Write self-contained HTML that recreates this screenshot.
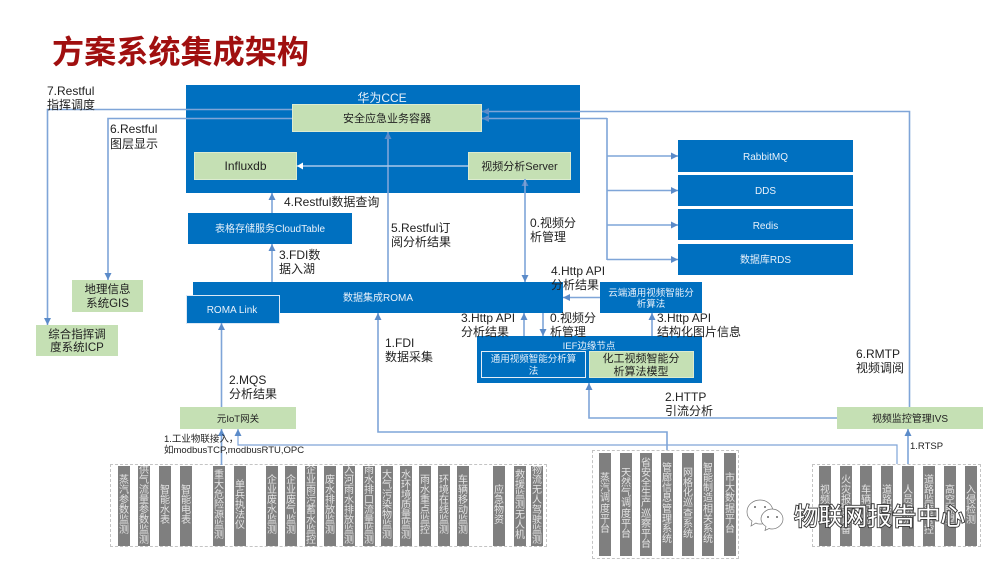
<!DOCTYPE html>
<html><head><meta charset="utf-8">
<style>
html,body{margin:0;padding:0;background:#fff}
#p{position:relative;width:1000px;height:562px;overflow:hidden;background:#fff;font-family:"Liberation Sans","Noto Sans CJK SC",sans-serif}
svg{position:absolute;left:0;top:0}
svg text{font-family:"Liberation Sans","Noto Sans CJK SC",sans-serif}
.g{position:absolute;border:1px dashed #c4c4c4;box-sizing:border-box}
.c{position:absolute;top:466px;width:12px;height:80px;background:#7f7f7f;display:flex;flex-direction:column;align-items:center;justify-content:center;font-size:10px;color:#e4e4e4;overflow:hidden}
.c i{display:block;flex:none;width:12px;height:10.1px;line-height:10px;font-style:normal;text-align:center}
.d{top:453px;height:103px}
.t{font-size:12px;fill:#222}
.w{fill:#e8f1fa;text-anchor:middle;font-size:10px}
.k{fill:#222;text-anchor:middle;font-size:11px}
.l{fill:none;stroke:#7fa5d8;stroke-width:1.6}
</style></head>
<body><div id="p">
<div class="g" style="left:110px;top:464px;width:437px;height:83px"></div>
<div class="g" style="left:592px;top:450px;width:147px;height:109px"></div>
<div class="g" style="left:812px;top:464px;width:169px;height:83px"></div>

<div class="c" style="left:118px"><i>蒸</i><i>汽</i><i>参</i><i>数</i><i>监</i><i>测</i></div>
<div class="c" style="left:138px"><i>供</i><i>气</i><i>流</i><i>量</i><i>参</i><i>数</i><i>监</i><i>测</i></div>
<div class="c" style="left:159px"><i>智</i><i>能</i><i>水</i><i>表</i></div>
<div class="c" style="left:180px"><i>智</i><i>能</i><i>电</i><i>表</i></div>
<div class="c" style="left:213px"><i>重</i><i>大</i><i>危</i><i>险</i><i>源</i><i>监</i><i>测</i></div>
<div class="c" style="left:234px"><i>单</i><i>兵</i><i>执</i><i>法</i><i>仪</i></div>
<div class="c" style="left:266px"><i>企</i><i>业</i><i>废</i><i>水</i><i>监</i><i>测</i></div>
<div class="c" style="left:285px"><i>企</i><i>业</i><i>废</i><i>气</i><i>监</i><i>测</i></div>
<div class="c" style="left:305px"><i>企</i><i>业</i><i>雨</i><i>污</i><i>蓄</i><i>水</i><i>监</i><i>控</i></div>
<div class="c" style="left:324px"><i>废</i><i>水</i><i>排</i><i>放</i><i>监</i><i>测</i></div>
<div class="c" style="left:343px"><i>入</i><i>河</i><i>雨</i><i>水</i><i>排</i><i>放</i><i>监</i><i>测</i></div>
<div class="c" style="left:363px"><i>雨</i><i>水</i><i>排</i><i>口</i><i>流</i><i>量</i><i>监</i><i>测</i></div>
<div class="c" style="left:381px"><i>大</i><i>气</i><i>污</i><i>染</i><i>物</i><i>监</i><i>测</i></div>
<div class="c" style="left:400px"><i>水</i><i>环</i><i>境</i><i>质</i><i>量</i><i>监</i><i>测</i></div>
<div class="c" style="left:419px"><i>雨</i><i>水</i><i>重</i><i>点</i><i>监</i><i>控</i></div>
<div class="c" style="left:438px"><i>环</i><i>境</i><i>在</i><i>线</i><i>监</i><i>测</i></div>
<div class="c" style="left:457px"><i>车</i><i>辆</i><i>移</i><i>动</i><i>监</i><i>测</i></div>
<div class="c" style="left:493px"><i>应</i><i>急</i><i>物</i><i>资</i></div>
<div class="c" style="left:514px"><i>救</i><i>援</i><i>监</i><i>测</i><i>无</i><i>人</i><i>机</i></div>
<div class="c" style="left:531px"><i>物</i><i>流</i><i>无</i><i>人</i><i>驾</i><i>驶</i><i>监</i><i>测</i></div>

<div class="c d" style="left:599px"><i>蒸</i><i>汽</i><i>调</i><i>度</i><i>平</i><i>台</i></div>
<div class="c d" style="left:620px"><i>天</i><i>然</i><i>气</i><i>调</i><i>度</i><i>平</i><i>台</i></div>
<div class="c d" style="left:640px"><i>省</i><i>安</i><i>全</i><i>生</i><i>产</i><i>巡</i><i>察</i><i>平</i><i>台</i></div>
<div class="c d" style="left:661px"><i>管</i><i>廊</i><i>信</i><i>息</i><i>管</i><i>理</i><i>系</i><i>统</i></div>
<div class="c d" style="left:682px"><i>网</i><i>格</i><i>化</i><i>巡</i><i>查</i><i>系</i><i>统</i></div>
<div class="c d" style="left:702px"><i>智</i><i>能</i><i>制</i><i>造</i><i>相</i><i>关</i><i>系</i><i>统</i></div>
<div class="c d" style="left:724px"><i>市</i><i>大</i><i>数</i><i>据</i><i>平</i><i>台</i></div>

<div class="c" style="left:819px"><i>视</i><i>频</i><i>调</i><i>阅</i></div>
<div class="c" style="left:840px"><i>火</i><i>灾</i><i>报</i><i>警</i><i>设</i><i>备</i></div>
<div class="c" style="left:860px"><i>车</i><i>辆</i><i>识</i><i>别</i></div>
<div class="c" style="left:881px"><i>道</i><i>路</i><i>检</i><i>测</i></div>
<div class="c" style="left:902px"><i>人</i><i>员</i><i>识</i><i>别</i></div>
<div class="c" style="left:923px"><i>道</i><i>路</i><i>监</i><i>管</i><i>管</i><i>控</i></div>
<div class="c" style="left:944px"><i>高</i><i>空</i><i>瞭</i><i>望</i></div>
<div class="c" style="left:965px"><i>入</i><i>侵</i><i>检</i><i>测</i></div>

<svg width="1000" height="562" viewBox="0 0 1000 562">
<defs>
<marker id="a" markerUnits="userSpaceOnUse" markerWidth="8" markerHeight="8" refX="7" refY="4" orient="auto"><path d="M0 0.500L7 4L0 7.500z" fill="#5b8bc9"/></marker>
<marker id="b" markerUnits="userSpaceOnUse" markerWidth="8" markerHeight="8" refX="6" refY="4" orient="auto"><path d="M0 0.500L6 4L0 7.500z" fill="#fff"/></marker>
</defs>

<text x="52" y="63" font-size="32" font-weight="700" fill="#a00f0f" textLength="257" lengthAdjust="spacingAndGlyphs">方案系统集成架构</text>

<!-- main boxes -->
<rect x="186" y="85" width="394" height="108" fill="#0070c0"/>
<rect x="292.500" y="104.500" width="189" height="27" fill="#c5e0b4" stroke="#dcebd0"/>
<rect x="194.500" y="152.500" width="102" height="27" fill="#c5e0b4" stroke="#dcebd0"/>
<rect x="468.500" y="152.500" width="102" height="27" fill="#c5e0b4" stroke="#dcebd0"/>
<rect x="188" y="213" width="164" height="31" fill="#0070c0"/>
<rect x="193" y="282" width="370" height="31" fill="#0070c0"/>
<rect x="186.500" y="295.500" width="93" height="28" fill="#0070c0" stroke="#dbe8f5"/>
<rect x="600" y="282" width="102" height="31" fill="#0070c0"/>
<rect x="477" y="336" width="225" height="47" fill="#0070c0"/>
<rect x="481.500" y="351.500" width="104" height="26" fill="#0070c0" stroke="#e5eef7"/>
<rect x="589.500" y="351.500" width="104" height="26" fill="#c5e0b4" stroke="#dcebd0"/>
<rect x="678" y="140" width="175" height="32" fill="#0070c0"/>
<rect x="678" y="175" width="175" height="31" fill="#0070c0"/>
<rect x="678" y="209" width="175" height="31" fill="#0070c0"/>
<rect x="678" y="244" width="175" height="31" fill="#0070c0"/>
<rect x="72" y="280" width="71" height="32" fill="#c5e0b4"/>
<rect x="36" y="325" width="82" height="31" fill="#c5e0b4"/>
<rect x="180" y="407" width="116" height="22" fill="#c5e0b4"/>
<rect x="837" y="407" width="146" height="22" fill="#c5e0b4"/>

<!-- connectors -->
<g class="l">
<path d="M292 109.500H47.500V325" marker-end="url(#a)"/>
<path d="M292 118.500H108V280" marker-end="url(#a)"/>
<path d="M909.500 407V111.500H482" marker-end="url(#a)"/>
<path d="M607 118.500H482" marker-end="url(#a)"/>
<path d="M607 118V260"/>
<path d="M607 156H678" marker-end="url(#a)"/>
<path d="M607 190.500H678" marker-end="url(#a)"/>
<path d="M607 225H678" marker-end="url(#a)"/>
<path d="M607 259.500H678" marker-end="url(#a)"/>
<path d="M388 282V132" marker-end="url(#a)"/>
<path d="M272 213V193" marker-end="url(#a)"/>
<path d="M272 282V244" marker-end="url(#a)"/>
<path d="M525 186V179" marker-end="url(#a)"/>
<path d="M525 179V282" marker-end="url(#a)"/>
<path d="M667 450V432H378V313" marker-end="url(#a)"/>
<path d="M221.500 407V323" marker-end="url(#a)"/>
<path d="M221.500 465V429" marker-end="url(#a)"/>
<path d="M897 464V445H238V429" marker-end="url(#a)" style="stroke-width:1.2"/>
<path d="M908 464V429" marker-end="url(#a)"/>
<path d="M837 418H589V383" marker-end="url(#a)"/>
<path d="M524 336V313" marker-end="url(#a)"/>
<path d="M543 313V336" marker-end="url(#a)"/>
<path d="M652 336V313" marker-end="url(#a)"/>
<path d="M600 297.500H563" marker-end="url(#a)"/>
</g>
<path d="M468 166H297" fill="none" stroke="#a9c8ea" stroke-width="1.6" marker-end="url(#b)"/>

<!-- box text -->
<text x="382" y="102" class="w" style="font-size:12px">华为CCE</text>
<text x="387" y="122" class="k">安全应急业务容器</text>
<text x="245.500" y="170" class="k" style="font-size:12px">Influxdb</text>
<text x="519.500" y="170" class="k">视频分析Server</text>
<text x="270" y="232" class="w">表格存储服务CloudTable</text>
<text x="378" y="301" class="w">数据集成ROMA</text>
<text x="232" y="313" class="w">ROMA Link</text>
<text x="651" y="296" class="w" style="font-size:9.500px">云端通用视频智能分</text>
<text x="651" y="307" class="w" style="font-size:9.500px">析算法</text>
<text x="589" y="349" class="w" style="font-size:9.500px">IEF边缘节点</text>
<text x="533.500" y="362" class="w" style="font-size:9.500px">通用视频智能分析算</text>
<text x="533.500" y="374" class="w" style="font-size:9.500px">法</text>
<text x="641" y="362" class="k">化工视频智能分</text>
<text x="641" y="375" class="k">析算法模型</text>
<text x="765.500" y="160" class="w">RabbitMQ</text>
<text x="765.500" y="194" class="w">DDS</text>
<text x="765.500" y="229" class="w">Redis</text>
<text x="765.500" y="263" class="w">数据库RDS</text>
<text x="107.500" y="293" class="k" style="font-size:11.500px">地理信息</text>
<text x="107.500" y="307" class="k" style="font-size:11.500px">系统GIS</text>
<text x="77" y="338" class="k" style="font-size:11.500px">综合指挥调</text>
<text x="77" y="351" class="k" style="font-size:11.500px">度系统ICP</text>
<text x="238" y="422" class="k" style="font-size:9.500px">元IoT网关</text>
<text x="910" y="422" class="k" style="font-size:10px">视频监控管理IVS</text>

<!-- labels -->
<g class="t">
<text x="47" y="95">7.Restful</text><text x="47" y="109">指挥调度</text>
<text x="110" y="133">6.Restful</text><text x="110" y="148">图层显示</text>
<text x="284" y="206">4.Restful数据查询</text>
<text x="279" y="259">3.FDI数</text><text x="279" y="273">据入湖</text>
<text x="391" y="232">5.Restful订</text><text x="391" y="246">阅分析结果</text>
<text x="530" y="227">0.视频分</text><text x="530" y="241">析管理</text>
<text x="551" y="275">4.Http API</text><text x="551" y="289">分析结果</text>
<text x="461" y="322">3.Http API</text><text x="461" y="336">分析结果</text>
<text x="550" y="322">0.视频分</text><text x="550" y="336">析管理</text>
<text x="657" y="322">3.Http API</text><text x="657" y="336">结构化图片信息</text>
<text x="385" y="347">1.FDI</text><text x="385" y="361">数据采集</text>
<text x="229" y="384">2.MQS</text><text x="229" y="398">分析结果</text>
<text x="665" y="401">2.HTTP</text><text x="665" y="415">引流分析</text>
<text x="856" y="358">6.RMTP</text><text x="856" y="372">视频调阅</text>
<text x="910" y="449" style="font-size:9.500px">1.RTSP</text>
<text x="164" y="442" style="font-size:9.500px">1.工业物联接入，</text>
<text x="164" y="453" style="font-size:9.500px">如modbusTCP,modbusRTU,OPC</text>
</g>

<!-- watermark -->
<g fill="#fff" stroke="#777" stroke-width="0.700">
<path d="M747 512c0-7 6-12 13-12s13 5 13 12-6 12-13 12c-1 0-3 0-4-1l-5 3 1-5c-3-2-5-5-5-9z"/>
<path d="M761 519c0-5 5-10 11-10s11 5 11 10-5 10-11 10c-1 0-2 0-3-.5l-4 2 1-4c-3-2-5-4-5-7.500z"/>
</g>
<g fill="#666"><circle cx="755" cy="507" r="1"/><circle cx="765" cy="507" r="1"/><circle cx="768" cy="517" r="1"/><circle cx="777" cy="517" r="1"/></g>
<text x="794" y="525" font-size="24.500" fill="#fff" stroke="#333" stroke-width="1.800" paint-order="stroke" textLength="171">物联网报告中心</text>
</svg>
</div></body></html>
